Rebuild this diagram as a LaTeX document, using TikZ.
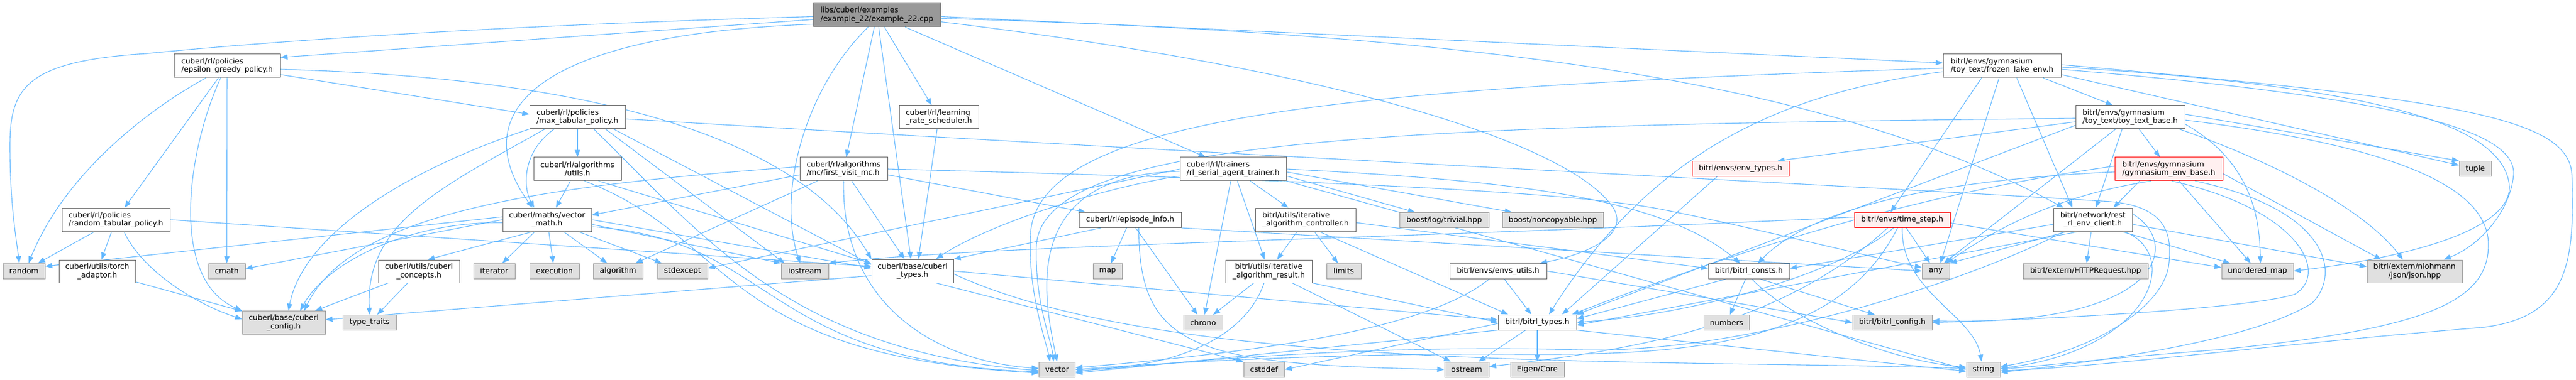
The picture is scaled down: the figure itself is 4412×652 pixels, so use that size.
\documentclass[tikz,border=0pt]{standalone}
\usepackage{fontspec}
\setmainfont{DejaVu Sans}
\usetikzlibrary{arrows.meta}
\definecolor{edgec}{HTML}{63B8FF}
\definecolor{nbord}{HTML}{666666}
\definecolor{xfill}{HTML}{E0E0E0}
\definecolor{xbord}{HTML}{999999}
\definecolor{tfill}{HTML}{999999}
\definecolor{rfill}{HTML}{FFF0F0}
\newcommand\dxfont{\fontsize{12.9pt}{14.6pt}\selectfont}
\pgfdeclarelayer{bg}
\pgfsetlayers{bg,main}
\tikzset{
  box/.style={draw=nbord, fill=white, line width=1pt, inner sep=1pt, font=\dxfont, text=black, align=center},
  ext/.style={box, draw=xbord, fill=xfill},
  redn/.style={box, draw=red, fill=rfill},
  topn/.style={box, fill=tfill},
  ed/.style={draw=edgec, line width=1.1pt, -{Triangle[length=12pt,width=9pt]}},
}
\begin{document}
\begin{tikzpicture}[x=1pt,y=1pt]
\useasboundingbox (0,0) rectangle (4412,-652);
\begin{pgfonlayer}{bg}
\fill[white] (0,0) rectangle (4412,-652);
\end{pgfonlayer}
% ---------- nodes ----------
\node[topn,align=left,minimum width=218pt,minimum height=41pt] (top) at (1502,-25.5) {libs/cuberl/examples\\/example\_22/example\_22.cpp};
\node[box,align=left,minimum width=182pt,minimum height=40pt] (eps) at (389,-113) {cuberl/rl/policies\\/epsilon\_greedy\_policy.h};
\node[box,align=left,minimum width=185pt,minimum height=40pt] (rtp) at (198.5,-377) {cuberl/rl/policies\\/random\_tabular\_policy.h};
\node[ext,minimum width=72pt,minimum height=26pt] (rnd) at (41,-465) {random};
\node[box,minimum width=131pt,minimum height=39pt] (torch) at (166.5,-465.5) {cuberl/utils/torch\\\_adaptor.h};
\node[ext,minimum width=63pt,minimum height=26pt] (cmath) at (388.5,-465) {cmath};
\node[ext,minimum width=142pt,minimum height=40pt] (ccfg) at (486,-553.5) {cuberl/base/cuberl\\\_config.h};
\node[ext,minimum width=92pt,minimum height=26pt] (tt) at (633,-553.5) {type\_traits};
\node[box,minimum width=139pt,minimum height=39pt] (conc) at (717.5,-465.5) {cuberl/utils/cuberl\\\_concepts.h};
\node[box,align=left,minimum width=164pt,minimum height=40pt] (maxp) at (989,-201) {cuberl/rl/policies\\/max\_tabular\_policy.h};
\node[box,minimum width=150pt,minimum height=40pt] (autils) at (989,-290) {cuberl/rl/algorithms\\/utils.h};
\node[box,minimum width=152pt,minimum height=40pt] (vmath) at (937,-377) {cuberl/maths/vector\\\_math.h};
\node[ext,minimum width=71pt,minimum height=26pt] (iter) at (846.5,-465) {iterator};
\node[ext,minimum width=85pt,minimum height=26pt] (exec) at (949.5,-465) {execution};
\node[ext,minimum width=85pt,minimum height=26pt] (algo) at (1058.5,-465) {algorithm};
\node[ext,minimum width=86pt,minimum height=26pt] (stdex) at (1169,-465) {stdexcept};
\node[ext,minimum width=81pt,minimum height=26pt] (ios) at (1378.5,-465) {iostream};
\node[box,align=left,minimum width=150pt,minimum height=40pt] (fvmc) at (1445,-290) {cuberl/rl/algorithms\\/mc/first\_visit\_mc.h};
\node[box,align=left,minimum width=136pt,minimum height=40pt] (lrs) at (1608,-201) {cuberl/rl/learning\\\_rate\_scheduler.h};
\node[box,align=left,minimum width=182pt,minimum height=40pt] (trainer) at (2112,-290) {cuberl/rl/trainers\\/rl\_serial\_agent\_trainer.h};
\node[box,minimum width=175pt,minimum height=26pt] (epi) at (1935.5,-377.5) {cuberl/rl/episode\_info.h};
\node[box,minimum width=140pt,minimum height=40pt] (ctypes) at (1563,-465) {cuberl/base/cuberl\\\_types.h};
\node[ext,minimum width=50pt,minimum height=26pt] (map) at (1897,-465) {map};
\node[ext,minimum width=67pt,minimum height=26pt] (chrono) at (2060.5,-553.5) {chrono};
\node[ext,minimum width=62pt,minimum height=26pt] (vec) at (1810.5,-634) {vector};
\node[ext,minimum width=70pt,minimum height=26pt] (cstddef) at (2165,-634) {cstddef};
\node[box,align=left,minimum width=172pt,minimum height=40pt] (ictrl) at (2236,-377) {bitrl/utils/iterative\\\_algorithm\_controller.h};
\node[box,minimum width=148pt,minimum height=39pt] (ires) at (2173,-465.5) {bitrl/utils/iterative\\\_algorithm\_result.h};
\node[ext,minimum width=153pt,minimum height=26pt] (blog) at (2473.5,-377.5) {boost/log/trivial.hpp};
\node[ext,minimum width=173pt,minimum height=26pt] (bnc) at (2659.5,-377.5) {boost/noncopyable.hpp};
\node[ext,minimum width=59pt,minimum height=26pt] (limits) at (2301.5,-465) {limits};
\node[box,minimum width=166pt,minimum height=26pt] (envu) at (2566,-465) {bitrl/envs/envs\_utils.h};
\node[box,minimum width=134pt,minimum height=26pt] (btypes) at (2633,-553) {bitrl/bitrl\_types.h};
\node[ext,minimum width=76pt,minimum height=26pt] (ostream) at (2512,-634) {ostream};
\node[ext,minimum width=92pt,minimum height=26pt] (eigen) at (2633,-634) {Eigen/Core};
\node[redn,minimum width=166pt,minimum height=26pt] (envtypes) at (2981,-289.5) {bitrl/envs/env\_types.h};
\node[box,minimum width=139pt,minimum height=26pt] (bconsts) at (2995.5,-465.5) {bitrl/bitrl\_consts.h};
\node[ext,minimum width=78pt,minimum height=26pt] (numbers) at (2957,-553.5) {numbers};
\node[box,align=left,minimum width=202pt,minimum height=40pt] (frozen) at (3429,-113) {bitrl/envs/gymnasium\\/toy\_text/frozen\_lake\_env.h};
\node[box,align=left,minimum width=187pt,minimum height=40pt] (ttb) at (3648.5,-201) {bitrl/envs/gymnasium\\/toy\_text/toy\_text\_base.h};
\node[redn,align=left,minimum width=185pt,minimum height=40pt] (geb) at (3714.5,-290) {bitrl/envs/gymnasium\\/gymnasium\_env\_base.h};
\node[redn,minimum width=164pt,minimum height=26pt] (tstep) at (3258,-377.5) {bitrl/envs/time\_step.h};
\node[box,minimum width=135pt,minimum height=40pt] (rest) at (3584.5,-377) {bitrl/network/rest\\\_rl\_env\_client.h};
\node[ext,minimum width=47pt,minimum height=26pt] (any) at (3315.5,-465) {any};
\node[ext,minimum width=214pt,minimum height=26pt] (http) at (3572,-465) {bitrl/extern/HTTPRequest.hpp};
\node[ext,minimum width=136pt,minimum height=26pt] (bcfg) at (3241,-553.5) {bitrl/bitrl\_config.h};
\node[ext,minimum width=58pt,minimum height=26pt] (str) at (3397,-634) {string};
\node[ext,minimum width=55pt,minimum height=26pt] (tuple) at (4239.5,-289.5) {tuple};
\node[ext,minimum width=123pt,minimum height=26pt] (umap) at (3866.5,-465) {unordered\_map};
\node[ext,minimum width=163pt,minimum height=39pt] (json) at (4135.5,-465.5) {bitrl/extern/nlohmann\\/json/json.hpp};
% ---------- edges ----------
\begin{pgfonlayer}{bg}
% top
\draw[ed] ([yshift=-3pt]top.west) .. controls (800,-45) and (420,-75) .. (250,-92) .. controls (45,-105) and (17,-150) .. (17,-250) .. controls (17,-350) and (28,-410) .. ([xshift=-8pt]rnd.north);
\draw[ed] ([yshift=-8pt]top.west) -- ([yshift=-6pt]eps.north east);
\draw[ed] ([yshift=5pt]top.south west) .. controls (900,-60) and (800,-200) .. ([xshift=-25pt]vmath.north);
\draw[ed] ([xshift=-15pt]top.south) .. controls (1380,-150) and (1330,-330) .. ([xshift=-8pt]ios.north);
\draw[ed] (top) -- (fvmc);
\draw[ed] (top) -- (ctypes);
\draw[ed] (top) -- (lrs);
\draw[ed] (top) -- (trainer);
\draw[ed] ([yshift=-3pt]top.east) -- ([yshift=5pt]frozen.west);
\draw[ed] ([yshift=-6pt]top.east) .. controls (2600,-60) and (3150,-150) .. ([xshift=-50pt]rest.north);
\draw[ed] ([yshift=-12pt]top.east) .. controls (2300,-120) and (2700,-250) .. (2765,-360) .. controls (2790,-410) and (2700,-440) .. ([xshift=-12pt]envu.north east);
% epsilon
\draw[ed] (eps) -- (rtp);
\draw[ed] ([xshift=-36pt]eps.south) .. controls (250,-190) and (110,-300) .. ([xshift=8pt]rnd.north);
\draw[ed] ([xshift=-11pt]eps.south) .. controls (320,-260) and (290,-480) .. (ccfg.north west);
\draw[ed] (eps) -- (cmath);
\draw[ed] ([yshift=-15pt]eps.east) -- ([yshift=5pt]maxp.west);
\draw[ed] ([yshift=-6pt]eps.east) .. controls (900,-130) and (1350,-200) .. (ctypes.north west);
% random tabular
\draw[ed] (rtp) -- (rnd);
\draw[ed] (rtp) -- (torch);
\draw[ed] ([xshift=14pt]rtp.south) .. controls (240,-460) and (330,-520) .. ([yshift=6pt]ccfg.west);
\draw[ed] (rtp.east) -- ([yshift=8pt]ctypes.west);
% torch, concepts
\draw[ed] (torch) -- (ccfg);
\draw[ed] (conc) -- (ccfg);
\draw[ed] (conc) -- (tt);
% max tabular
\draw[ed] (maxp) -- (autils);
\draw[ed] ([xshift=-40pt]maxp.south) .. controls (895,-260) and (895,-320) .. ([xshift=-22pt]vmath.north);
\draw[ed] (maxp.south west) .. controls (700,-290) and (520,-400) .. ([xshift=8pt]ccfg.north);
\draw[ed] ([xshift=-56pt]maxp.south) .. controls (760,-320) and (625,-380) .. (tt.north);
\draw[ed] ([xshift=48pt]maxp.south) -- ([xshift=6pt]ios.north west);
\draw[ed] ([xshift=62pt]maxp.south) -- ([yshift=11pt]ctypes.west);
\draw[ed] ([xshift=28pt]maxp.south) .. controls (1200,-400) and (1350,-600) .. ([yshift=-2pt]vec.west);
\draw[ed] ([yshift=-3pt]maxp.east) .. controls (2000,-260) and (3200,-320) .. (3600,-345) .. controls (3710,-350) and (3720,-400) .. (3715,-450) .. controls (3710,-520) and (3600,-600) .. ([yshift=5pt]str.east);
% algorithms utils
\draw[ed] ([xshift=-12pt]autils.south) -- ([xshift=15pt]vmath.north);
\draw[ed] ([xshift=12pt]autils.south) .. controls (1260,-410) and (1230,-610) .. ([yshift=-6pt]vec.west);
\draw[ed] ([xshift=36pt]autils.south) -- ([yshift=13pt]ctypes.west);
% vector math
\draw[ed] ([yshift=5pt]vmath.west) -- ([yshift=8pt]rnd.east);
\draw[ed] (vmath.west) -- ([yshift=4pt]cmath.east);
\draw[ed] ([yshift=-5pt]vmath.west) .. controls (700,-380) and (560,-450) .. ([xshift=28pt]ccfg.north);
\draw[ed] ([xshift=-25pt]vmath.south) -- ([xshift=15pt]conc.north);
\draw[ed] (vmath) -- (iter);
\draw[ed] (vmath) -- (exec);
\draw[ed] (vmath) -- (algo);
\draw[ed] (vmath) -- (stdex);
\draw[ed] ([yshift=-8pt]vmath.east) -- (ios.north west);
\draw[ed] (vmath.east) -- ([yshift=5pt]ctypes.west);
\draw[ed] ([yshift=-12pt]vmath.east) .. controls (1330,-410) and (1300,-620) .. ([yshift=-4pt]vec.west);
% first visit mc
\draw[ed] ([yshift=4pt]fvmc.west) .. controls (900,-320) and (600,-370) .. ([xshift=35pt]ccfg.north);
\draw[ed] ([yshift=-10pt]fvmc.west) -- ([yshift=8pt]vmath.east);
\draw[ed] ([xshift=-45pt]fvmc.south) -- ([xshift=30pt]algo.north);
\draw[ed] (fvmc) -- (ctypes);
\draw[ed] ([yshift=-10pt]fvmc.east) -- ([xshift=12pt]epi.north west);
\draw[ed] (fvmc.south) .. controls (1440,-520) and (1600,-620) .. ([yshift=2pt]vec.west);
\draw[ed] (fvmc.east) .. controls (2300,-310) and (2700,-330) .. (2850,-360) .. controls (3000,-390) and (3200,-440) .. ([yshift=6pt]any.west);
% learning rate
\draw[ed] (lrs) -- ([xshift=10pt]ctypes.north);
% trainer
\draw[ed] ([yshift=-12pt]trainer.west) .. controls (1900,-320) and (1700,-380) .. ([xshift=40pt]ctypes.north);
\draw[ed] ([yshift=-4pt]trainer.west) .. controls (1740,-300) and (1790,-520) .. (vec.north);
\draw[ed] (trainer) -- (chrono);
\draw[ed] (trainer) -- (ires);
\draw[ed] (trainer) -- (ictrl);
\draw[ed] ([yshift=-12pt]trainer.east) -- ([xshift=-50pt]blog.north);
\draw[ed] ([yshift=-5pt]trainer.east) -- ([xshift=-70pt]bnc.north);
\draw[ed] (trainer.south east) -- (str.west);
\draw[ed] (trainer.west) -- ([yshift=5pt]stdex.east);
\draw[ed] (trainer.east) .. controls (2600,-310) and (2850,-340) .. ([xshift=-15pt]bconsts.north);
% episode info
\draw[ed] ([xshift=-50pt]epi.south) -- (ctypes.north east);
\draw[ed] (epi) -- (map);
\draw[ed] (epi) -- (chrono);
\draw[ed] ([xshift=15pt]epi.south) .. controls (1950,-600) and (2050,-625) .. (ostream.west);
\draw[ed] (epi.south east) -- (any.west);
% iterative controller / result
\draw[ed] (ictrl) -- (ires);
\draw[ed] (ictrl) -- (limits);
\draw[ed] ([xshift=24pt]ictrl.south) -- ([xshift=-50pt]btypes.north);
\draw[ed] ([yshift=-5pt]ictrl.east) -- ([yshift=5pt]bconsts.west);
\draw[ed] (ires) -- (chrono);
\draw[ed] ([xshift=-8pt]ires.south) .. controls (2140,-560) and (2050,-630) .. (vec.east);
\draw[ed] (ires) -- (ostream);
\draw[ed] (ires.south east) -- (btypes.west);
% cuberl types
\draw[ed] ([yshift=-8pt]ctypes.west) -- ([yshift=5pt]ccfg.east);
\draw[ed] (ctypes.east) -- ([yshift=4pt]btypes.west);
\draw[ed] ([yshift=-5pt]ctypes.east) .. controls (2000,-640) and (2800,-615) .. ([yshift=2pt]str.west);
\draw[ed] ([xshift=40pt]ctypes.south) -- (cstddef.north west);
% envs utils
\draw[ed] (envu) -- (btypes);
\draw[ed] ([xshift=-15pt]envu.south) .. controls (2450,-560) and (2200,-600) .. ([yshift=3pt]vec.east);
\draw[ed] (envu.east) -- (bcfg.west);
% bitrl types
\draw[ed] (btypes) -- (ostream);
\draw[ed] (btypes) -- (eigen);
\draw[ed] (btypes.south west) -- ([yshift=-6pt]vec.east);
\draw[ed] ([yshift=-2pt]btypes.west) -- (cstddef.east);
\draw[ed] (btypes.south east) -- ([yshift=-3pt]str.west);
% bitrl consts
\draw[ed] ([xshift=-40pt]bconsts.south) -- ([yshift=6pt]btypes.east);
\draw[ed] (bconsts) -- (numbers);
\draw[ed] ([xshift=20pt]bconsts.south) -- ([xshift=-30pt]bcfg.north);
\draw[ed] ([xshift=5pt]bconsts.south) .. controls (3080,-560) and (3250,-620) .. ([yshift=4pt]str.west);
% env types
\draw[ed] ([xshift=-40pt]envtypes.south) -- ([xshift=-25pt]btypes.north east);
% frozen lake
\draw[ed] ([xshift=-35pt]frozen.south) -- ([xshift=-20pt]tstep.north);
\draw[ed] ([xshift=-5pt]frozen.south) -- ([xshift=8pt]any.north);
\draw[ed] ([xshift=25pt]frozen.south) -- ([xshift=-35pt]rest.north);
\draw[ed] ([xshift=70pt]frozen.south) -- ([xshift=-30pt]ttb.north);
\draw[ed] ([yshift=-4pt]frozen.west) .. controls (2300,-150) and (1780,-200) .. (1765,-400) .. controls (1760,-500) and (1790,-580) .. ([xshift=-12pt]vec.north);
\draw[ed] ([yshift=-10pt]frozen.west) .. controls (3050,-160) and (2830,-260) .. ([xshift=20pt]btypes.north);
\draw[ed] ([yshift=-15pt]frozen.east) -- ([yshift=6pt]tuple.west);
\draw[ed] ([yshift=2pt]frozen.east) .. controls (4200,-170) and (4400,-200) .. (4405,-300) .. controls (4410,-450) and (4400,-545) .. (4250,-562) .. controls (3900,-590) and (3600,-630) .. ([yshift=-2pt]str.east);
\draw[ed] ([yshift=-2pt]frozen.east) .. controls (4100,-150) and (4290,-220) .. (4298,-320) .. controls (4300,-400) and (4100,-445) .. (umap.east);
\draw[ed] ([yshift=-6pt]frozen.east) .. controls (4150,-170) and (4310,-230) .. (4305,-300) .. controls (4300,-360) and (4250,-420) .. ([xshift=50pt]json.north);
% toy text base
\draw[ed] (ttb) -- (geb);
\draw[ed] ([xshift=-14pt]ttb.south) -- ([xshift=5pt]rest.north);
\draw[ed] ([xshift=-25pt]ttb.south) -- ([xshift=14pt]any.north);
\draw[ed] ([yshift=-2pt]ttb.west) .. controls (2400,-215) and (1790,-235) .. (1775,-420) .. controls (1772,-520) and (1800,-580) .. ([xshift=-6pt]vec.north);
\draw[ed] ([yshift=-8pt]ttb.west) -- ([xshift=-20pt]envtypes.north east);
\draw[ed] ([yshift=-14pt]ttb.west) -- (btypes.north east);
\draw[ed] ([yshift=5pt]ttb.east) -- (tuple.north west);
\draw[ed] ([xshift=-10pt]ttb.south east) .. controls (3900,-280) and (4050,-360) .. ([xshift=-20pt]json.north);
\draw[ed] ([yshift=-12pt]ttb.east) .. controls (3860,-280) and (3870,-380) .. ([xshift=5pt]umap.north);
\draw[ed] ([yshift=-5pt]ttb.east) .. controls (4100,-250) and (4262,-320) .. (4262,-420) .. controls (4262,-520) and (4150,-565) .. (3800,-600) .. controls (3600,-615) and (3500,-628) .. ([yshift=1pt]str.east);
% gymnasium env base
\draw[ed] ([xshift=-50pt]geb.south) -- ([xshift=35pt]rest.north);
\draw[ed] ([xshift=-30pt]geb.south) .. controls (3560,-330) and (3450,-370) .. ([xshift=18pt]any.north);
\draw[ed] ([yshift=-5pt]geb.west) .. controls (3300,-310) and (3100,-360) .. ([xshift=15pt]bconsts.north);
\draw[ed] ([yshift=5pt]geb.west) .. controls (3300,-330) and (3000,-420) .. ([xshift=-8pt]btypes.north east);
\draw[ed] (geb) -- (umap);
\draw[ed] ([yshift=-8pt]geb.east) -- ([xshift=25pt]json.north west);
\draw[ed] ([xshift=45pt]geb.south) .. controls (3990,-360) and (4010,-470) .. (3960,-520) .. controls (3850,-590) and (3550,-625) .. ([yshift=-5pt]str.east);
\draw[ed] ([xshift=5pt]geb.south) .. controls (3940,-360) and (3990,-470) .. (3930,-505) .. controls (3850,-530) and (3500,-548) .. (bcfg.east);
% time step
\draw[ed] ([yshift=5pt]tstep.west) .. controls (2400,-410) and (1700,-420) .. (ios.north east);
\draw[ed] ([xshift=-15pt]tstep.south) .. controls (3150,-470) and (2900,-540) .. (btypes.east);
\draw[ed] ([xshift=-8pt]tstep.south) .. controls (3150,-590) and (2900,-610) .. (2600,-608) .. controls (2300,-605) and (2000,-622) .. (vec.east);
\draw[ed] ([xshift=7pt]tstep.south) -- ([xshift=-10pt]any.north);
\draw[ed] (tstep.south) .. controls (3255,-500) and (3380,-540) .. ([xshift=-3pt]str.north);
\draw[ed] ([yshift=-5pt]tstep.east) -- ([yshift=6pt]umap.west);
\draw[ed] ([xshift=-25pt]tstep.south) .. controls (3050,-560) and (2800,-600) .. ([yshift=5pt]ostream.east);
% rest client
\draw[ed] (rest) -- (http);
\draw[ed] ([xshift=-45pt]rest.south) -- (any.north east);
\draw[ed] ([yshift=-8pt]rest.west) -- ([yshift=5pt]bconsts.east);
\draw[ed] ([xshift=-25pt]rest.south) -- ([yshift=-5pt]btypes.east);
\draw[ed] ([xshift=55pt]rest.south) .. controls (3740,-440) and (3680,-600) .. ([yshift=2pt]str.east);
\draw[ed] ([yshift=-8pt]rest.east) -- ([yshift=8pt]json.west);
\draw[ed] ([xshift=50pt]rest.south) -- ([xshift=15pt]umap.north west);
\draw[ed] ([xshift=-50pt]rest.south) .. controls (3400,-470) and (3000,-610) .. (2700,-600) .. controls (2300,-590) and (2000,-625) .. ([yshift=-3pt]vec.east);
\draw[ed] ([yshift=10pt]rest.east) .. controls (3740,-420) and (3700,-560) .. ([yshift=3pt]bcfg.east);
\end{pgfonlayer}
\end{tikzpicture}
\end{document}
